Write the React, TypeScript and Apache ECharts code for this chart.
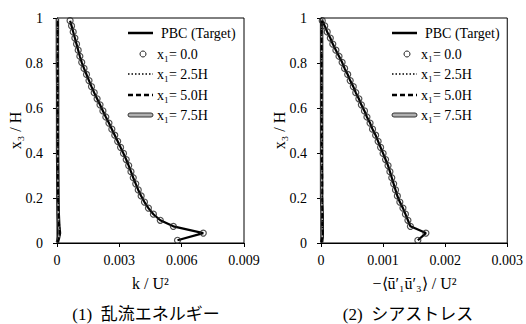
import React, { useEffect, useRef } from "react";
import * as echarts from "echarts";

// heights x3/H of the profile points (ascending)
const yLevels = [
  0.012, 0.044, 0.074, 0.101, 0.128, 0.155, 0.182, 0.209, 0.236, 0.263,
  0.29, 0.317, 0.344, 0.371, 0.398, 0.425, 0.452, 0.479, 0.506, 0.533,
  0.56, 0.587, 0.614, 0.641, 0.668, 0.695, 0.722, 0.749, 0.776, 0.803,
  0.83, 0.857, 0.884, 0.911, 0.938, 0.965, 0.988,
];
// k/U^2 at x1 = 0.0 (circles) and PBC target (line)
const kInlet = [
  0.0058, 0.00704, 0.0056, 0.00497, 0.00464, 0.0044, 0.00421, 0.00405, 0.00391, 0.00379,
  0.00367, 0.00356, 0.00345, 0.00333, 0.0032, 0.00306, 0.00292, 0.00278, 0.00264, 0.0025,
  0.00235, 0.00221, 0.00207, 0.00193, 0.00179, 0.00166, 0.00154, 0.00142, 0.0013, 0.00119,
  0.0011, 0.00102, 0.00094, 0.00086, 0.00078, 0.0007, 0.00063,
];
const kTarget = [
  0.0058, 0.00704, 0.0056, 0.00497, 0.00464, 0.0044, 0.00421, 0.00405, 0.00391, 0.00379,
  0.00367, 0.00356, 0.00345, 0.00333, 0.0032, 0.00306, 0.00292, 0.00278, 0.00264, 0.0025,
  0.00235, 0.00221, 0.00207, 0.00193, 0.00179, 0.00166, 0.00154, 0.00142, 0.0013, 0.00119,
  0.0011, 0.00102, 0.00094, 0.00086, 0.00078, 0.0007, 0.00063,
];
// shear stress -<u1'u3'>/U^2
const sInlet = [
  0.00156, 0.00169, 0.00144, 0.0014, 0.00136, 0.00132, 0.00127, 0.00123, 0.0012, 0.00117,
  0.00114, 0.00111, 0.00108, 0.00104, 0.001, 0.00096, 0.00092, 0.00088, 0.00083, 0.00079,
  0.00074, 0.0007, 0.00065, 0.00061, 0.00056, 0.00052, 0.00047, 0.00043, 0.00038, 0.00034,
  0.00029, 0.00024, 0.00019, 0.00015, 0.0001, 0.00006, 0.00002,
];
const sTarget = [
  0.00156, 0.00169, 0.00144, 0.0014, 0.00136, 0.00132, 0.00127, 0.00123, 0.0012, 0.00117,
  0.00114, 0.00111, 0.00108, 0.00104, 0.001, 0.00096, 0.00092, 0.00088, 0.00083, 0.00079,
  0.00074, 0.0007, 0.00065, 0.00061, 0.00056, 0.00052, 0.00047, 0.00043, 0.00038, 0.00034,
  0.00029, 0.00024, 0.00019, 0.00015, 0.0001, 0.00006, 0.00002,
];

// downstream profiles (coarse heights)
const downY = [0.003, 0.025, 0.044, 0.074, 0.128, 0.2, 0.3, 0.4, 0.5, 0.6, 0.7, 0.8, 0.9, 0.997];
const k25 = [0.00003, 0.0001, 0.00016, 0.00012, 0.00008, 0.00006, 0.00005, 0.00005, 0.00004, 0.00004, 0.00004, 0.00003, 0.00003, 0.00003];
const k50 = [0.00003, 0.00009, 0.00014, 0.0001, 0.00007, 0.00005, 0.00004, 0.00004, 0.00004, 0.00003, 0.00003, 0.00003, 0.00003, 0.00003];
const k75 = [0.00002, 0.00008, 0.00012, 0.00009, 0.00006, 0.00005, 0.00004, 0.00003, 0.00003, 0.00003, 0.00003, 0.00002, 0.00002, 0.00002];
const s25 = [0.00001, 0.00002, 0.00003, 0.00002, 0.00002, 0.00002, 0.00002, 0.00002, 0.00002, 0.00001, 0.00001, 0.00001, 0.00001, 0.00001];
const s50 = [0.00001, 0.00002, 0.00003, 0.00002, 0.00002, 0.00002, 0.00002, 0.00001, 0.00001, 0.00001, 0.00001, 0.00001, 0.00001, 0.00001];
const s75 = [0.00001, 0.00002, 0.00002, 0.00002, 0.00002, 0.00001, 0.00001, 0.00001, 0.00001, 0.00001, 0.00001, 0.00001, 0.00001, 0.00001];

const legendLabels = ["PBC (Target)", "x\u2081= 0.0", "x\u2081= 2.5H", "x\u2081= 5.0H", "x\u2081= 7.5H"];
const xMaxes = [0.009, 0.003];
const xIntervals = [0.003, 0.001];
const xNames = ["k / U\u00b2", "\u2212\u27e8\u016b\u2032\u2081\u016b\u2032\u2083\u27e9 / U\u00b2"];
const captions = ["(1)  \u4e71\u6d41\u30a8\u30cd\u30eb\u30ae\u30fc", "(2)  \u30b7\u30a2\u30b9\u30c8\u30ec\u30b9"];
const yName = "x\u2083 / H";

const FONT = "'Liberation Serif', 'Times New Roman', 'Noto Sans CJK JP', serif";

const pair = (xs: number[], ys: number[]) => ys.map((y, i) => [xs[i], y]);

export default function App() {
  const ref = useRef<HTMLDivElement>(null);
  useEffect(() => {
    if (!ref.current) return;
    const chart = echarts.init(ref.current, null, { renderer: "svg" });

    const grids = [
      { left: 57, top: 18, width: 187, height: 225 },
      { left: 321, top: 18, width: 187, height: 225 },
    ];

    const profiles = [
      { target: kTarget, inlet: kInlet, d25: k25, d50: k50, d75: k75 },
      { target: sTarget, inlet: sInlet, d25: s25, d50: s50, d75: s75 },
    ];

    const series: any[] = [];
    profiles.forEach((p, gi) => {
      const base = { type: "line", xAxisIndex: gi, yAxisIndex: gi, symbol: "none", silent: true };
      series.push({ ...base, name: legendLabels[4] + "o", data: pair(p.d75, downY), lineStyle: { color: "#222", width: 3.5 }, z: 2 });
      series.push({ ...base, name: legendLabels[4], data: pair(p.d75, downY), lineStyle: { color: "#b0b0b0", width: 1.5 }, z: 3 });
      series.push({ ...base, name: legendLabels[3], data: pair(p.d50, downY), lineStyle: { color: "#000", width: 2, type: [5, 3] }, z: 4 });
      series.push({ ...base, name: legendLabels[2], data: pair(p.d25, downY), lineStyle: { color: "#000", width: 1.5, type: [1.5, 2] }, z: 5 });
      series.push({ ...base, name: legendLabels[0], data: pair(p.target, yLevels), lineStyle: { color: "#000", width: 2.2 }, z: 6 });
      series.push({
        type: "scatter",
        name: legendLabels[1],
        xAxisIndex: gi,
        yAxisIndex: gi,
        data: pair(p.inlet, yLevels),
        symbol: "circle",
        symbolSize: 6,
        itemStyle: { color: "rgba(0,0,0,0)", borderColor: "#222", borderWidth: 1.2 },
        silent: true,
        z: 7,
      });
    });

    const graphic: any[] = [];
    [0, 264].forEach((dx, gi) => {
      const ys = [33, 54, 74, 95, 115];
      const x1 = 128 + dx;
      const x2 = 153 + dx;
      graphic.push({ type: "line", shape: { x1, y1: ys[0], x2, y2: ys[0] }, style: { stroke: "#000", lineWidth: 2.5 } });
      graphic.push({ type: "circle", shape: { cx: 143 + dx, cy: ys[1], r: 3 }, style: { fill: "none", stroke: "#222", lineWidth: 1 } });
      graphic.push({ type: "line", shape: { x1, y1: ys[2], x2, y2: ys[2] }, style: { stroke: "#000", lineWidth: 1.5, lineDash: [1.5, 2] } });
      graphic.push({ type: "line", shape: { x1, y1: ys[3], x2, y2: ys[3] }, style: { stroke: "#000", lineWidth: 2.5, lineDash: [5, 3] } });
      graphic.push({ type: "rect", shape: { x: x1, y: ys[4] - 2, width: 25, height: 4, r: 2 }, style: { fill: "#b0b0b0", stroke: "#333", lineWidth: 1 } });
      legendLabels.forEach((t, i) => {
        graphic.push({
          type: "text",
          x: (i === 0 ? 161 : 157) + dx,
          y: ys[i],
          style: { text: t, fill: "#000", font: `14px ${FONT}`, textAlign: "left", textVerticalAlign: "middle" },
        });
      });
      const g = grids[gi];
      graphic.push({
        type: "text",
        x: g.left + g.width / 2,
        y: 283,
        style: { text: xNames[gi], fill: "#000", font: `16px ${FONT}`, textAlign: "center", textVerticalAlign: "middle" },
      });
      graphic.push({
        type: "text",
        x: 15 + dx,
        y: g.top + g.height / 2,
        rotation: Math.PI / 2,
        style: { text: yName, fill: "#000", font: `16px ${FONT}`, textAlign: "center", textVerticalAlign: "middle" },
      });
      graphic.push({
        type: "text",
        x: (gi === 0 ? 146 : 408),
        y: 314,
        style: { text: captions[gi], fill: "#000", font: `17px ${FONT}`, textAlign: "center", textVerticalAlign: "middle" },
      });
    });

    const axisFont = { fontFamily: FONT, fontSize: 14, color: "#000" };

    chart.setOption({
      animation: false,
      backgroundColor: "#fff",
      grid: grids.map((g) => ({ ...g, show: true, borderColor: "#000", borderWidth: 1, backgroundColor: "transparent", containLabel: false })),
      xAxis: [0, 1].map((gi) => ({
        type: "value",
        gridIndex: gi,
        min: 0,
        max: xMaxes[gi],
        interval: xIntervals[gi],
        axisLine: { show: true, onZero: false, lineStyle: { color: "#000", width: 1 } },
        axisTick: { show: true, inside: false, length: 4, lineStyle: { color: "#000" } },
        axisLabel: { ...axisFont, margin: 10, formatter: (v: number) => (v === 0 ? "0" : v.toFixed(3)) },
        splitLine: { show: false },
      })),
      yAxis: [0, 1].map((gi) => ({
        type: "value",
        gridIndex: gi,
        min: 0,
        max: 1,
        interval: 0.2,
        axisLine: { show: true, onZero: false, lineStyle: { color: "#000", width: 1 } },
        axisTick: { show: true, inside: false, length: 4, lineStyle: { color: "#000" } },
        axisLabel: { ...axisFont, margin: 14, formatter: (v: number) => String(Math.round(v * 10) / 10) },
        splitLine: { show: false },
      })),
      series,
      graphic,
    });

    return () => chart.dispose();
  }, []);

  return <div ref={ref} style={{ position: "fixed", left: 0, top: 0, width: 526, height: 324 }} />;
}
